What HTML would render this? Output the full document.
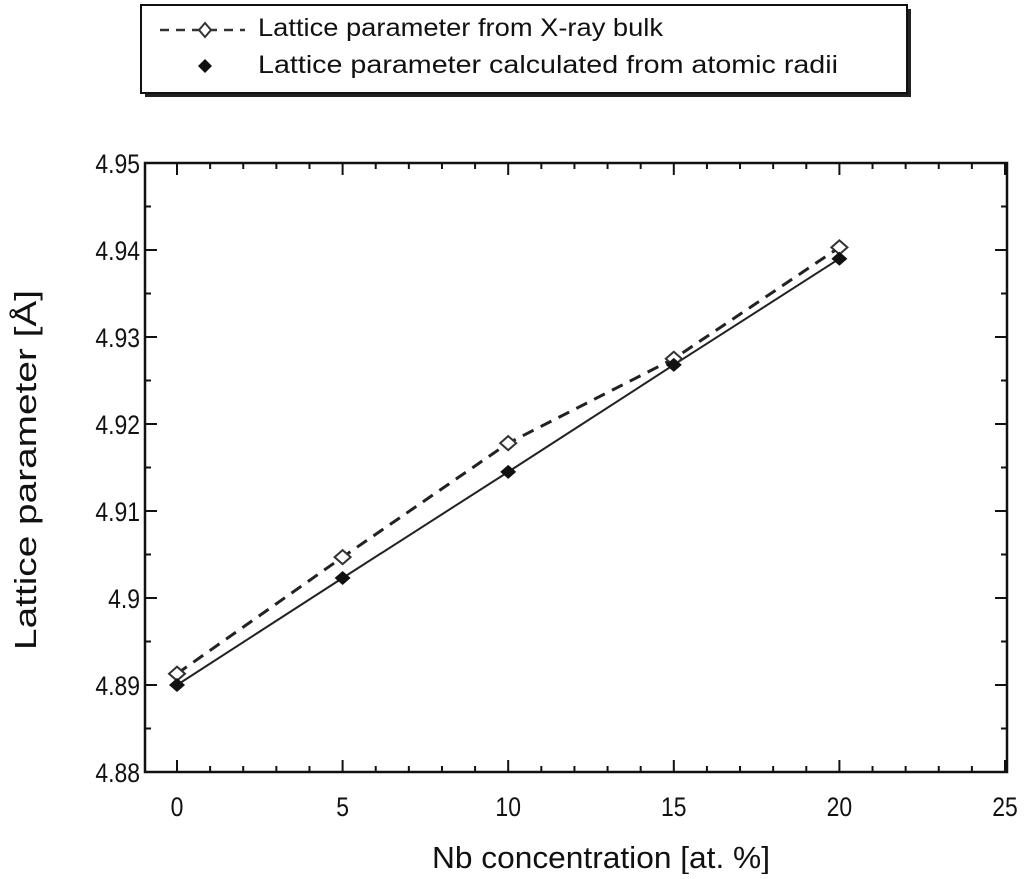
<!DOCTYPE html>
<html><head><meta charset="utf-8"><style>
body{margin:0;background:#fff;}
svg text{font-family:"Liberation Sans",sans-serif;fill:#111;}
</style></head><body>
<svg id="chart" width="1024" height="874" viewBox="0 0 1024 874" xmlns="http://www.w3.org/2000/svg">
<g>
<rect x="145" y="9" width="766" height="88" fill="#222"/>
<rect x="141" y="5" width="766" height="88" fill="#fff" stroke="#111" stroke-width="2"/>
<line x1="160" y1="30" x2="245" y2="30" stroke="#333" stroke-width="2.5" stroke-dasharray="9,7"/>
<path d="M205,23 L211,30 L205,37 L199,30 Z" fill="#fff" stroke="#333" stroke-width="2"/>
<text x="258" y="36" font-size="25" textLength="405" lengthAdjust="spacingAndGlyphs">Lattice parameter from X-ray bulk</text>
<path d="M205,59 L212,66 L205,73 L198,66 Z" fill="#111"/>
<text x="258" y="73" font-size="25" textLength="580" lengthAdjust="spacingAndGlyphs">Lattice parameter calculated from atomic radii</text>
</g>
<g id="plot"></g>
<text x="601" y="868" font-size="31" text-anchor="middle" textLength="338" lengthAdjust="spacingAndGlyphs">Nb concentration [at. %]</text>
<text transform="translate(36,470) rotate(-90)" font-size="31" text-anchor="middle" textLength="360" lengthAdjust="spacingAndGlyphs">Lattice parameter [Å]</text>
</svg>
<script>
const xCats=[0,5,10,15,20];
const xray=[4.8913,4.9047,4.9178,4.9275,4.9403];
const calc=[4.8900,4.9023,4.9145,4.9268,4.9390];
const xTicks=[0,5,10,15,20,25];
const yTicks=["4.88","4.89","4.9","4.91","4.92","4.93","4.94","4.95"];
const L=145,R=1007,T=163,B=772;
const X=v=>177+(v)*(1005-177)/25;
const Y=v=>B-(v-4.88)*(B-T)/0.07;
const g=document.getElementById('plot');
const NS='http://www.w3.org/2000/svg';
function mk(t,a){const e=document.createElementNS(NS,t);for(const k in a)e.setAttribute(k,a[k]);g.appendChild(e);return e;}
let f=mk('rect',{x:L,y:T,width:R-L,height:B-T,fill:'none',stroke:'#111','stroke-width':2.5});


for(let i=-1;i<=25;i++){const x=X(i);if(x<=L||x>=R)continue;const len=i%5===0?12:6;
mk('line',{x1:x,y1:B,x2:x,y2:B-len,stroke:'#111','stroke-width':2});
mk('line',{x1:x,y1:T,x2:x,y2:T+len,stroke:'#111','stroke-width':2});}
xTicks.forEach(v=>{const t=mk('text',{x:X(v),y:816,'font-size':27,'text-anchor':'middle',transform:`translate(${X(v)},0) scale(0.85,1) translate(${-X(v)},0)`});t.textContent=v;

});
yTicks.forEach(s=>{const v=parseFloat(s),y=Y(v);
mk('line',{x1:L,y1:y,x2:L+12,y2:y,stroke:'#111','stroke-width':2});
mk('line',{x1:R,y1:y,x2:R-12,y2:y,stroke:'#111','stroke-width':2});
const t=mk('text',{x:140,y:y+10,'font-size':27,'text-anchor':'end',transform:`translate(140,0) scale(0.85,1) translate(-140,0)`});t.textContent=s;

});
for(let k=0;k<7;k++){const y=Y(4.885+k*0.01);mk('line',{x1:L,y1:y,x2:L+6,y2:y,stroke:'#111','stroke-width':2});mk('line',{x1:R,y1:y,x2:R-6,y2:y,stroke:'#111','stroke-width':2});}
const p1=xCats.map((c,i)=>X(c)+','+Y(xray[i])).join(' ');
const l1=mk('polyline',{points:p1,fill:'none',stroke:'#222','stroke-width':3,'stroke-dasharray':'12,8'});


const p2=xCats.map((c,i)=>X(c)+','+Y(calc[i])).join(' ');
const l2=mk('polyline',{points:p2,fill:'none',stroke:'#222','stroke-width':2});


xCats.forEach((c,i)=>{const x=X(c),y=Y(xray[i]);
const m=mk('path',{d:`M${x},${y-7} L${x+8},${y} L${x},${y+7} L${x-8},${y} Z`,fill:'#fff',stroke:'#333','stroke-width':2});

});
xCats.forEach((c,i)=>{const x=X(c),y=Y(calc[i]);
const m=mk('path',{d:`M${x},${y-7} L${x+8},${y} L${x},${y+7} L${x-8},${y} Z`,fill:'#111'});

});
</script>
</body></html>
